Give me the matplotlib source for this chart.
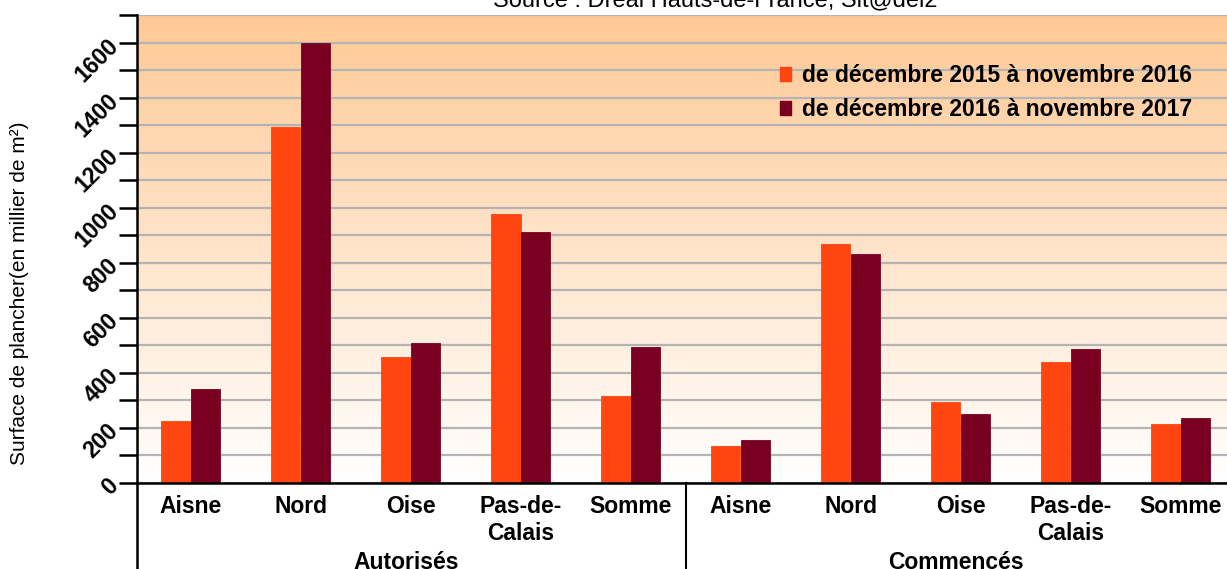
import matplotlib
matplotlib.use('Agg')
import matplotlib.pyplot as plt
import numpy as np
from matplotlib.colors import LinearSegmentedColormap
from matplotlib.patches import Patch
import matplotlib.transforms as mtransforms

plt.rcParams['font.family'] = ['Liberation Sans', 'DejaVu Sans']

# ---------------- data ----------------
groups = ['Autorisés', 'Commencés']
departements = ['Aisne', 'Nord', 'Oise', 'Pas-de-\nCalais', 'Somme']
serie_2015_2016 = [223, 1293, 456, 977, 316, 133, 867, 294, 440, 214]
serie_2016_2017 = [339, 1600, 507, 911, 492, 155, 830, 251, 485, 235]
series_labels = ['de décembre 2015 à novembre 2016', 'de décembre 2016 à novembre 2017']
yticks_major = [0, 200, 400, 600, 800, 1000, 1200, 1400, 1600]
yticks_minor = [100, 300, 500, 700, 900, 1100, 1300, 1500, 1700]
title = 'Source : Dreal Hauts-de-France, Sit@del2'
ylabel = 'Surface de plancher(en millier de m²)'

# ---------------- layout ----------------
W, H = 1227, 569
fig = plt.figure(figsize=(W / 100, H / 100), dpi=100)
left_px, right_px, top_px, bottom_px = 137, 1227, 15, 482.7
ax = fig.add_axes([left_px / W, 1 - bottom_px / H,
                   (right_px - left_px) / W, (bottom_px - top_px) / H])

cat_w = 110.0
x0 = 190.5
xlim = ((left_px - x0) / cat_w, (right_px - x0) / cat_w)
ymax = 1700

# background gradient
grad = np.linspace(0, 1, 256).reshape(-1, 1)
cmap = LinearSegmentedColormap.from_list('bg', ['#FFFFFF', '#FFC995'])
ax.imshow(grad, extent=[xlim[0], xlim[1], 0, ymax], origin='lower',
          aspect='auto', cmap=cmap, zorder=0)

x = np.arange(len(serie_2015_2016))
bw = 0.265
c1, c2 = '#FF4510', '#7A0021'
ax.bar(x - bw / 2, serie_2015_2016, bw, color=c1, edgecolor=c1, lw=0.6,
       zorder=3, label=series_labels[0])
ax.bar(x + bw / 2, serie_2016_2017, bw, color=c2, edgecolor=c2, lw=0.6,
       zorder=3, label=series_labels[1])

ax.set_xlim(xlim)
ax.set_ylim(0, ymax)

# y axis
ax.set_yticks(yticks_major)
ax.set_yticks(yticks_minor, minor=True)
ax.set_yticklabels([str(v) for v in yticks_major], rotation=45, ha='right',
                   va='center', rotation_mode='anchor', fontweight='bold',
                   fontsize=16.5)
ax.tick_params(axis='y', which='both', length=13, width=1.8, color='black',
               direction='out', pad=3)
ax.grid(axis='y', which='both', color='#B4B4B4', lw=1.6, zorder=1)
ax.set_axisbelow(True)

# x axis
ax.set_xticks(x)
ax.set_xticklabels(departements * 2, fontweight='bold', fontsize=16.5,
                   linespacing=1.22)
ax.tick_params(axis='x', length=0, pad=9)

for s in ['top', 'right']:
    ax.spines[s].set_visible(False)
for s in ['left', 'bottom']:
    ax.spines[s].set_color('black')
    ax.spines[s].set_linewidth(1.8)
    ax.spines[s].set_zorder(5)

# extended left spine and group separator
ax.plot([0, 0], [0, -0.25], transform=ax.transAxes, clip_on=False,
        color='black', lw=1.8)
trans = mtransforms.blended_transform_factory(ax.transData, ax.transAxes)
n = len(departements)
ax.plot([n - 0.5, n - 0.5], [0, -0.25], transform=trans, clip_on=False,
        color='black', lw=1.5)
for i, g in enumerate(groups):
    ax.text(i * n + (n - 1) / 2 - 0.04, -0.146, g, transform=trans,
            ha='center', va='top', fontweight='bold', fontsize=16.5)

# legend
handles = [Patch(color=c1), Patch(color=c2)]
ax.legend(handles, series_labels, loc='upper left',
          bbox_to_anchor=(780 / W, 1 - 64 / H), bbox_transform=fig.transFigure,
          frameon=False, prop={'weight': 'bold', 'size': 16.5},
          handlelength=0.5, handleheight=0.55, handletextpad=0.45,
          borderpad=0, borderaxespad=0, labelspacing=0.48)

# title (cut at top like the reference) and y label
fig.text(715 / W, 1 - 6.5 / H, title, ha='center', va='baseline', fontsize=17)
fig.text(20 / W, 1 - 293.5 / H, ylabel, rotation=90, ha='center',
         va='center', fontsize=15)

fig.savefig('out.png', dpi=100)
